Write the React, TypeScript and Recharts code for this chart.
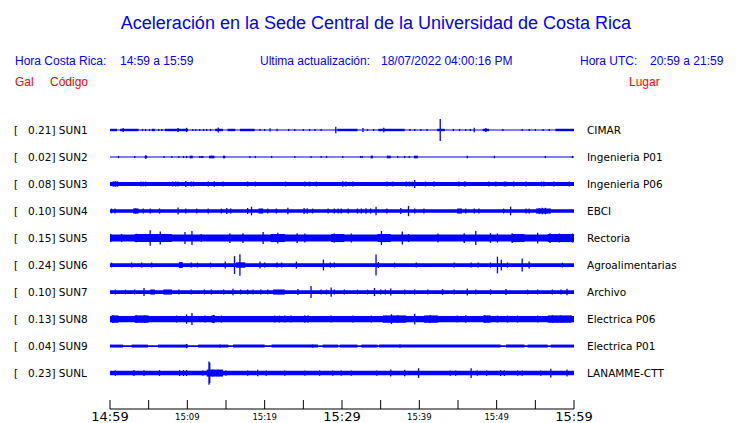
import React from 'react';
import { ComposedChart, Area, Scatter, ErrorBar, XAxis, YAxis, ReferenceArea } from 'recharts';

const BLUE = '#0000ff';
const RED = '#ff0000';

const stations = ['SUN1', 'SUN2', 'SUN3', 'SUN4', 'SUN5', 'SUN6', 'SUN7', 'SUN8', 'SUN9', 'SUNL'];
const peakGal = ['0.21', '0.02', '0.08', '0.10', '0.15', '0.24', '0.10', '0.13', '0.04', '0.23'];
const places = ['CIMAR', 'Ingenieria P01', 'Ingenieria P06', 'EBCI', 'Rectoria', 'Agroalimentarias', 'Archivo', 'Electrica P06', 'Electrica P01', 'LANAMME-CTT'];

// minutes after 14:59
const tickMinutes = [0, 5, 10, 15, 20, 25, 30, 35, 40, 45, 50, 55, 60];
const tickLabels = ['14:59', '', '15:09', '', '15:19', '', '15:29', '', '15:39', '', '15:49', '', '15:59'];
const majorLabels = ['14:59', '15:29', '15:59'];

// amplitudes below are half-heights in % of the spacing between traces
const baseAmp = [2, 2, 7, 6.5, 13, 7, 7, 11.5, 3, 8.5];

// [start minute, end minute, amplitude]
const sun1Bursts = [[0, 0.9, 4.5], [1.3, 3.7, 4.5], [5.4, 5.8, 4.5], [7.1, 10.1, 4.5], [13.6, 14.6, 4.5], [15.2, 16.2, 4.5], [16.8, 18.7, 4.5], [29.4, 32.0, 4.5], [34.7, 38.1, 4.5], [42.3, 43.3, 4.5], [48.2, 49.0, 4.5], [57.6, 60, 4.5]];
const sun2Bursts = [[4.5, 4.8, 5], [10.3, 10.7, 5], [12.8, 13.5, 5], [14.6, 14.9, 5], [33.7, 34.0, 5], [35.8, 36.3, 5], [39.3, 39.8, 5]];
const sun3Bursts = [[0.4, 1.0, 9]];
const sun4Bursts = [[3.0, 3.7, 9.5], [19.2, 19.8, 9.5], [44.9, 45.5, 9.5], [55.1, 57.0, 9.5]];
const sun5Bursts = [[3.2, 8.0, 15], [20.8, 22.6, 15], [28.6, 30.3, 15], [34.6, 36.3, 15], [52.0, 53.6, 15], [56.6, 60, 15]];
const sun6Bursts = [[8.9, 9.4, 11], [16.3, 17.5, 10]];
const sun7Bursts = [[5.2, 5.8, 9.5], [6.9, 8.0, 9.5], [21.1, 22.6, 9.5]];
const sun8Bursts = [[0.2, 1.1, 13.5], [3.2, 5.0, 13.5], [13.1, 13.6, 13.5], [35.3, 38.3, 13.5], [40.6, 42.4, 13.5], [48.4, 49.0, 13.5], [56.6, 59.6, 13.5]];
const sun9Bursts = [[0, 1.7, 5.5], [2.8, 4.9, 5.5], [6.2, 10.1, 5.5], [11.4, 15.3, 5.5], [15.9, 20.0, 5.5], [20.9, 26.9, 5.5], [27.5, 29.5, 5.5], [29.7, 32.0, 5.5], [32.5, 34.6, 5.5], [34.8, 50.5, 5.5], [51.2, 53.6, 5.5], [54.0, 56.6, 5.5], [57.0, 60, 5.5]];
const sunLBursts = [[12.5, 14.6, 13]];

// [minute, amplitude]
const sun1Spikes = [[1.7, 7], [4.2, 4], [4.6, 4], [5.1, 4], [6.3, 4], [6.7, 4], [8.8, 7], [9.9, 8], [10.7, 4], [11.1, 4], [11.6, 4], [12.1, 4], [12.5, 4], [13.0, 4], [14.0, 9], [19.4, 4], [20.0, 4], [20.7, 6], [21.6, 5], [23.1, 4], [23.9, 4], [25.0, 4], [25.8, 4], [26.5, 4], [27.3, 4], [29.2, 12], [32.7, 7], [33.3, 4], [34.1, 4], [35.4, 8], [38.8, 4], [39.4, 4], [40.2, 4], [41.0, 4], [42.7, 41], [44.4, 4], [45.2, 4], [46.0, 4], [46.6, 4], [47.1, 8], [48.6, 7], [50.8, 4], [53.3, 4], [54.2, 4], [55.0, 4], [56.0, 4], [56.8, 4]];
const sun2Spikes = [[1.1, 4], [3.2, 4], [4.6, 6], [7.0, 4], [8.0, 4], [8.9, 4], [9.5, 4], [9.9, 4], [11.6, 4], [11.8, 4], [12.0, 4], [18.1, 4], [18.8, 4], [20.9, 4], [23.9, 4], [26.0, 4], [27.3, 4], [28.0, 4], [30.1, 4], [32.4, 4], [32.6, 4], [37.2, 4], [38.1, 4], [38.7, 4], [46.2, 5], [49.7, 5], [56.3, 4], [59.8, 4]];
const sun3Spikes = [[0.4, 9], [0.7, 9], [1.0, 9], [4.0, 9], [4.3, 8], [4.6, 9], [8.1, 9], [8.5, 9], [8.8, 9], [9.8, 11], [10.5, 9], [10.8, 9], [12.7, 9], [13.5, 10], [14.6, 9], [17.8, 9], [18.8, 9], [22.7, 9], [25.2, 9], [25.8, 9], [26.7, 9], [30.1, 10], [30.5, 9], [31.4, 9], [35.8, 9], [36.6, 9], [38.3, 9], [38.7, 9], [39.1, 9], [39.4, 15], [40.8, 9], [41.9, 9], [45.1, 9], [45.9, 10], [49.0, 9], [49.9, 9], [51.0, 9], [51.2, 9], [52.2, 9], [53.8, 9], [55.8, 9], [56.1, 9], [57.4, 9], [59.4, 9]];
const sun4Spikes = [[0.2, 9], [0.65, 9], [3.3, 9.5], [4.3, 9.5], [5.2, 9.5], [6.4, 9.5], [8.8, 13], [9.8, 9.5], [11.2, 9], [12.7, 9], [14.4, 9], [15.1, 11], [15.6, 9.5], [17.8, 11], [18.3, 16], [20.4, 9], [21.5, 9.5], [23.0, 12], [25.1, 11], [25.5, 10], [26.2, 9], [28.2, 9], [29.0, 9.5], [29.5, 9.5], [29.9, 9.5], [30.8, 9], [32.0, 9.5], [32.5, 9.5], [33.1, 10], [33.7, 9.5], [34.4, 16], [35.8, 9], [37.6, 11], [38.6, 19], [39.4, 9], [40.6, 9], [46.0, 9], [47.1, 9], [47.7, 9], [50.9, 9], [51.8, 16], [53.8, 9], [54.2, 9], [55.5, 10], [55.9, 12], [56.3, 12]];
const sun5Spikes = [[0.1, 15], [1.5, 15], [3.4, 16], [5.2, 29], [6.5, 24], [9.7, 22], [10.6, 26], [11.8, 15], [15.5, 18], [17.2, 18], [19.8, 22], [21.7, 20], [24.2, 18], [25.2, 17], [29.0, 17], [31.2, 17], [35.1, 26], [37.8, 24], [38.6, 15], [42.4, 17], [45.8, 18], [47.3, 26], [49.2, 18], [50.1, 17], [52.0, 18], [55.3, 20], [56.9, 18], [58.1, 17], [59.8, 17]];
const sun6Spikes = [[0.2, 9], [2.8, 9], [4.1, 9], [5.4, 9.5], [10.5, 9], [11.3, 9], [13.0, 9], [14.9, 13], [16.1, 33], [16.8, 40], [19.4, 13], [20.0, 9.5], [21.6, 9], [22.2, 9], [24.1, 13], [27.6, 20], [28.5, 9.5], [29.0, 9], [34.4, 39], [34.7, 11], [36.8, 9], [39.6, 9], [44.5, 9.5], [46.7, 9], [47.6, 9.5], [49.2, 9.5], [50.1, 31], [50.6, 20], [51.4, 9.5], [53.3, 24], [54.2, 13], [58.5, 9]];
const sun7Spikes = [[0.7, 9], [2.0, 9], [3.2, 9], [4.4, 15], [8.9, 9], [10.5, 9], [12.2, 9], [13.1, 9], [14.7, 9.5], [15.9, 12], [16.9, 9], [17.8, 9], [18.5, 9], [19.5, 9], [20.4, 9], [24.3, 11], [26.0, 22], [27.3, 9], [28.0, 9], [28.6, 17], [29.0, 9.5], [30.3, 9], [32.0, 9], [33.3, 9], [34.2, 15], [35.0, 9], [35.6, 9], [36.3, 13], [38.1, 9], [39.4, 9], [41.1, 9], [43.0, 11], [44.5, 9], [46.2, 13], [47.3, 9], [49.2, 10], [51.2, 11], [54.0, 9], [55.3, 9], [57.2, 9], [58.3, 9], [59.1, 12]];
const sun8Spikes = [[0.4, 15], [3.4, 14], [4.5, 14], [8.6, 13], [9.9, 17], [10.6, 22], [12.3, 13], [13.4, 15], [14.4, 13], [21.3, 13], [21.9, 13], [22.6, 13], [23.4, 13], [25.2, 14], [25.6, 14], [28.6, 13], [31.4, 13], [33.8, 13], [36.4, 18], [37.2, 14], [39.4, 20], [41.4, 15], [44.9, 13], [46.0, 14], [48.4, 15], [49.1, 14], [50.1, 13], [51.4, 13], [52.7, 13], [55.3, 13], [57.2, 14], [58.3, 14], [59.6, 14]];
const sun9Spikes = [[9.9, 8], [14.2, 6], [26.2, 6], [37.5, 6]];
const sunLSpikes = [[0.7, 10], [3.1, 11], [4.4, 10.5], [6.4, 11], [9.0, 11], [9.5, 11], [9.9, 11], [12.0, 10], [12.8, 43], [12.9, 38], [13.3, 13], [14.0, 12], [15.0, 10], [17.8, 10], [19.1, 12], [20.2, 10], [22.6, 10], [25.2, 10], [27.1, 10], [28.8, 10], [29.9, 10], [31.2, 10], [34.5, 10], [36.3, 13], [38.1, 12], [39.9, 18], [44.0, 10], [44.7, 10], [46.7, 18], [47.5, 10], [48.7, 10], [50.5, 11], [51.0, 10.5], [52.7, 10], [53.3, 10], [55.7, 10], [57.0, 16], [59.1, 13]];

const bursts = [sun1Bursts, sun2Bursts, sun3Bursts, sun4Bursts, sun5Bursts, sun6Bursts, sun7Bursts, sun8Bursts, sun9Bursts, sunLBursts];
const spikes = [sun1Spikes, sun2Spikes, sun3Spikes, sun4Spikes, sun5Spikes, sun6Spikes, sun7Spikes, sun8Spikes, sun9Spikes, sunLSpikes];

const traceIdx = stations.map((_, i) => i);

// two rows (start/end) carry the constant noise band of every trace
const bandRows = [0, 60].map((m) => {
  const row: any = { m };
  baseAmp.forEach((a, i) => {
    row['b' + i] = [i - a / 100, i + a / 100];
  });
  return row;
});

const spikeRows = spikes.map((list, i) => list.map(([m, a]) => ({ m, y: i, e: a / 100 })));

const TimeTick = (props: any) => {
  const { x, y, payload } = props;
  const label = tickLabels[tickMinutes.indexOf(payload.value)];
  const big = majorLabels.includes(label);
  return (
    <g>
      <line x1={x} x2={x} y1={y - 9} y2={y} stroke="#000" />
      {label && (
        <text x={x} y={y + (big ? 12 : 11)} textAnchor="middle" fontSize={big ? 13 : 8.5} fontFamily="DejaVu Sans" fill="#000">
          {label}
        </text>
      )}
    </g>
  );
};

const StationTick = (props: any) => {
  const { x, y, payload } = props;
  const i = payload.value;
  return (
    <g fontFamily="DejaVu Sans" fontSize={10.5} fill="#000">
      <text x={x - 96} y={y + 4}>[</text>
      <text x={x - 82} y={y + 4} style={{ whiteSpace: 'pre' }}>{`${peakGal[i]}] ${stations[i]}`}</text>
    </g>
  );
};

const PlaceTick = (props: any) => {
  const { x, y, payload } = props;
  return (
    <text x={x + 13} y={y + 4} fontFamily="DejaVu Sans" fontSize={10.5} fill="#000">
      {places[payload.value]}
    </text>
  );
};

const Header = () => (
  <svg width={740} height={100} style={{ position: 'absolute', left: 0, top: 0 }}>
    <g fontFamily="Liberation Sans, Arial, sans-serif">
      <text x={376} y={29} textAnchor="middle" fontSize={18} fill={BLUE}>
        Aceleración en la Sede Central de la Universidad de Costa Rica
      </text>
      <g fontSize={12} fill={BLUE}>
        <text x={15} y={65}>Hora Costa Rica:</text>
        <text x={120} y={65}>14:59 a 15:59</text>
        <text x={260} y={65}>Ultima actualización:</text>
        <text x={381} y={65}>18/07/2022 04:00:16 PM</text>
        <text x={580} y={65}>Hora UTC:</text>
        <text x={650} y={65}>20:59 a 21:59</text>
      </g>
      <g fontSize={12} fill={RED}>
        <text x={15} y={86}>Gal</text>
        <text x={50} y={86}>Código</text>
        <text x={629} y={86}>Lugar</text>
      </g>
    </g>
  </svg>
);

export default function App() {
  return (
    <div style={{ position: 'absolute', left: 0, top: 0, width: 740, height: 423, background: '#fff' }}>
      <Header />
      <div style={{ position: 'absolute', left: 0, top: 0 }}>
        <ComposedChart width={740} height={423} data={bandRows} margin={{ top: 110, right: 0, bottom: 0, left: 0 }}>
          <XAxis
            dataKey="m"
            type="number"
            domain={[0, 60]}
            ticks={tickMinutes}
            interval={0}
            height={14}
            tickSize={0}
            tickMargin={0}
            tickLine={false}
            axisLine={{ stroke: '#000' }}
            tick={<TimeTick />}
          />
          <YAxis
            yAxisId="l"
            dataKey="y"
            type="number"
            domain={[-0.74, 10.33]}
            allowDataOverflow
            reversed
            ticks={traceIdx}
            interval={0}
            width={110}
            tickSize={0}
            tickMargin={0}
            axisLine={false}
            tickLine={false}
            tick={<StationTick />}
          />
          <YAxis
            yAxisId="r"
            orientation="right"
            type="number"
            domain={[-0.74, 10.33]}
            allowDataOverflow
            reversed
            ticks={traceIdx}
            interval={0}
            width={166}
            tickSize={0}
            tickMargin={0}
            axisLine={false}
            tickLine={false}
            tick={<PlaceTick />}
          />
          {traceIdx.map((i) => (
            <Area
              key={'band' + i}
              yAxisId="l"
              dataKey={'b' + i}
              type="linear"
              stroke="none"
              fill={BLUE}
              fillOpacity={1}
              dot={false}
              activeDot={false}
              isAnimationActive={false}
            />
          ))}
          {traceIdx.map((i) =>
            bursts[i].map(([s, e, a], k) => (
              <ReferenceArea
                key={'burst' + i + '-' + k}
                yAxisId="l"
                x1={s}
                x2={e}
                y1={i - a / 100}
                y2={i + a / 100}
                fill={BLUE}
                fillOpacity={1}
                stroke="none"
              />
            ))
          )}
          {traceIdx.map((i) => (
            <Scatter
              key={'spk' + i}
              yAxisId="l"
              data={spikeRows[i]}
              shape={() => <g />}
              isAnimationActive={false}
            >
              <ErrorBar dataKey="e" direction="y" width={0} stroke={BLUE} strokeWidth={1.3} isAnimationActive={false} />
            </Scatter>
          ))}
        </ComposedChart>
      </div>
    </div>
  );
}
